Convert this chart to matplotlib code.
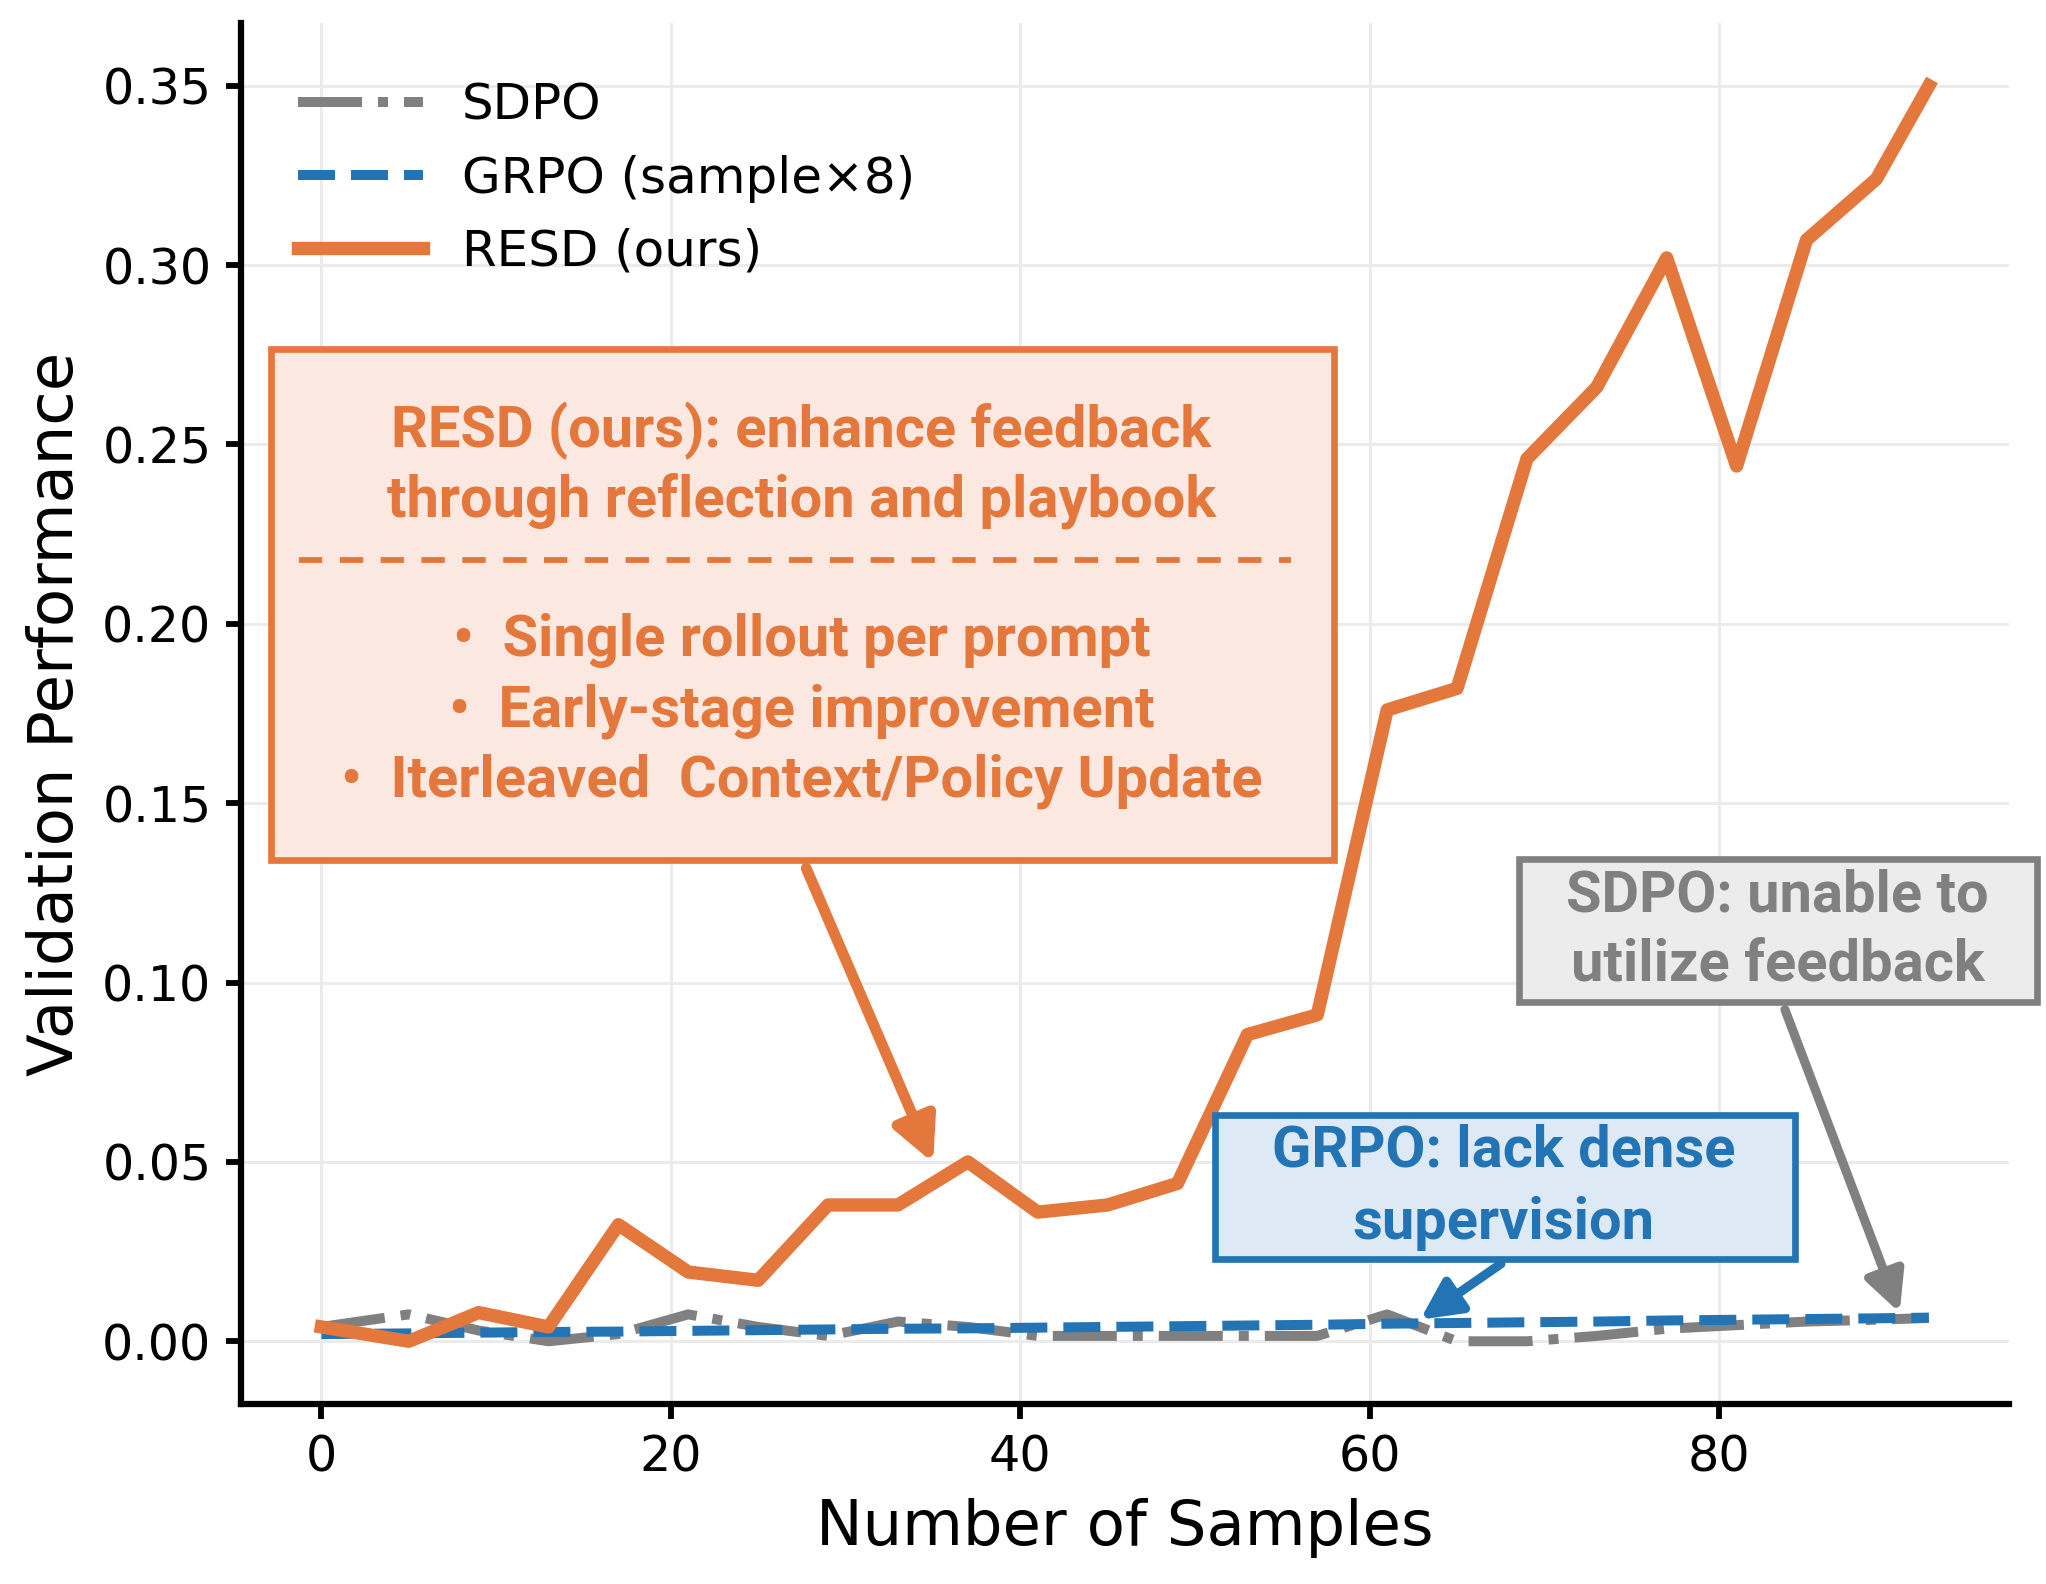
import numpy as np
import matplotlib.pyplot as plt
from matplotlib.patches import Rectangle
from matplotlib.lines import Line2D

# values
samples = [0, 5, 9, 13, 17, 21, 25, 29, 33, 37, 41, 45, 49, 53, 57, 61, 65, 69, 73, 77, 81, 85, 89, 92]
resd = [0.004, 0.000, 0.008, 0.004, 0.0325, 0.0193, 0.017, 0.038, 0.038, 0.050, 0.036, 0.038, 0.044,
        0.0855, 0.091, 0.176, 0.182, 0.246, 0.266, 0.302, 0.244, 0.307, 0.324, 0.350]
sdpo = [0.004, 0.0075, 0.003, 0.0, 0.002, 0.0075, 0.004, 0.0015, 0.0055, 0.004, 0.0015, 0.0015, 0.0015,
        0.0015, 0.0015, 0.0075, 0.0, 0.0, 0.0015, 0.0035, 0.0045, 0.0055, 0.006, 0.0065]
grpo = [0.002, 0.0022, 0.0024, 0.0026, 0.0027, 0.0029, 0.0031, 0.0033, 0.0035, 0.0036, 0.0038, 0.004,
        0.0042, 0.0044, 0.0046, 0.0049, 0.0051, 0.0053, 0.0055, 0.0058, 0.006, 0.0062, 0.0064, 0.0066]
series_labels = ['SDPO', 'GRPO (sample×8)', 'RESD (ours)']

ORANGE = '#E4773B'
BLUE = '#2274B5'
GRAY = '#808080'

NOTE_FONT = ['Liberation Sans Narrow', 'Roboto', 'DejaVu Sans']
NOTE_SIZE = 13.9

plt.rcParams['font.family'] = ['DejaVu Sans']

fig = plt.figure(figsize=(6.82, 5.28), dpi=300)
ax = fig.add_axes([0.1178, 0.1136, 0.982 - 0.1178, 0.9855 - 0.1136])

ax.plot(samples, sdpo, color=GRAY, lw=2.4, linestyle='-.', label=series_labels[0], zorder=3)
ax.plot(samples, grpo, color=BLUE, lw=2.4, linestyle='--', label=series_labels[1], zorder=3)
ax.plot(samples, resd, color=ORANGE, lw=3.2, linestyle='-', label=series_labels[2], zorder=4)

ax.set_xticks([0, 20, 40, 60, 80])
ax.set_yticks(np.arange(0, 0.36, 0.05))
ax.set_yticklabels([f'{v:.2f}' for v in np.arange(0, 0.36, 0.05)])
ax.tick_params(labelsize=11.8, length=3.6, width=1.4)
ax.set_xlabel('Number of Samples', fontsize=15)
ax.set_ylabel('Validation Performance', fontsize=15)
ax.grid(True, color='#ebebeb', lw=0.7)
ax.set_axisbelow(True)
for s in ['top', 'right']:
    ax.spines[s].set_visible(False)
for s in ['left', 'bottom']:
    ax.spines[s].set_linewidth(1.5)

ax.legend(loc='upper left', bbox_to_anchor=(0.021, 0.972), borderaxespad=0, frameon=False,
          fontsize=12, handlelength=2.5, handletextpad=0.78, labelspacing=0.5)

# RESD note box
ax.add_patch(Rectangle((0.017, 0.394), 0.601, 0.370, transform=ax.transAxes,
                       facecolor='#FBE9E1', edgecolor=ORANGE, lw=1.6, zorder=5))
for y, t in [(0.705, 'RESD (ours): enhance feedback'), (0.654, 'through reflection and playbook')]:
    ax.text(0.317, y, t, transform=ax.transAxes, ha='center', va='center', color=ORANGE,
            fontsize=NOTE_SIZE, fontweight='bold', family=NOTE_FONT, zorder=6)
ax.add_line(Line2D([0.033, 0.594], [0.611, 0.611], transform=ax.transAxes, color=ORANGE,
                   lw=1.4, linestyle=(0, (4, 3)), zorder=6))
for y, t in [(0.553, '•  Single rollout per prompt'), (0.502, '•  Early-stage improvement'),
             (0.451, '•  Iterleaved  Context/Policy Update')]:
    ax.text(0.317, y, t, transform=ax.transAxes, ha='center', va='center', color=ORANGE,
            fontsize=NOTE_SIZE, fontweight='bold', family=NOTE_FONT, zorder=6)
ax.annotate('', xy=(35.2, 0.0476), xytext=(27.56, 0.134),
            arrowprops=dict(arrowstyle='-|>', color=ORANGE, lw=2.6, mutation_scale=22), zorder=4)

# GRPO note box
ax.add_patch(Rectangle((0.551, 0.105), 0.328, 0.104, transform=ax.transAxes,
                       facecolor='#DDE9F4', edgecolor=BLUE, lw=1.6, zorder=5))
for y, t in [(0.183, 'GRPO: lack dense'), (0.131, 'supervision')]:
    ax.text(0.714, y, t, transform=ax.transAxes, ha='center', va='center', color=BLUE,
            fontsize=NOTE_SIZE, fontweight='bold', family=NOTE_FONT, zorder=6)
ax.annotate('', xy=(62.5, 0.0047), xytext=(67.9, 0.0229),
            arrowprops=dict(arrowstyle='-|>', color=BLUE, lw=2.2, mutation_scale=20), zorder=4)

# SDPO note box
ax.add_patch(Rectangle((0.723, 0.291), 0.2925, 0.104, transform=ax.transAxes, clip_on=False,
                       facecolor='#ECECEC', edgecolor=GRAY, lw=1.6, zorder=5))
for y, t in [(0.368, 'SDPO: unable to'), (0.318, 'utilize feedback')]:
    ax.text(0.869, y, t, transform=ax.transAxes, ha='center', va='center', color=GRAY,
            fontsize=NOTE_SIZE, fontweight='bold', family=NOTE_FONT, zorder=6)
ax.annotate('', xy=(90.5, 0.0058), xytext=(83.6, 0.0946),
            arrowprops=dict(arrowstyle='-|>', color=GRAY, lw=2.2, mutation_scale=20), zorder=4)

fig.savefig('out.png', dpi=300)
